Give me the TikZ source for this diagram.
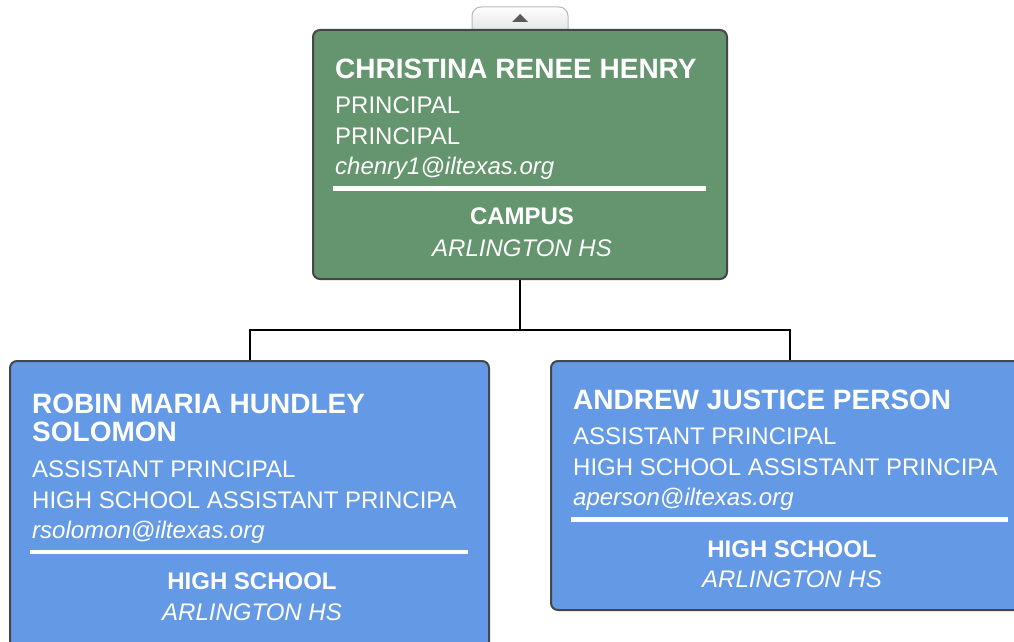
\documentclass[tikz,border=0pt]{standalone}
\usepackage{fontspec}
\setmainfont{Liberation Sans}
\usetikzlibrary{calc}
\definecolor{boxgreen}{RGB}{100,149,110}
\definecolor{boxblue}{RGB}{100,153,230}
\definecolor{boxborder}{RGB}{70,70,72}
\definecolor{tabfill}{RGB}{228,228,228}
\definecolor{tabborder}{RGB}{185,185,185}
\definecolor{tabarrow}{RGB}{90,90,90}
\tikzset{
  x=1pt, y=-1pt,
  card/.style={draw=boxborder, line width=2pt, rounded corners=7pt, inner sep=0pt},
  namestyle/.style={anchor=base west, text=white, inner sep=0pt, font=\fontsize{28}{30}\selectfont\bfseries, align=left},
  linestyle/.style={anchor=base west, text=white, inner sep=0pt, font=\fontsize{24}{28}\selectfont},
  mailstyle/.style={anchor=base west, text=white, inner sep=0pt, font=\fontsize{24}{28}\selectfont\itshape},
  deptstyle/.style={anchor=base, text=white, inner sep=0pt, font=\fontsize{24}{28}\selectfont\bfseries},
  sitestyle/.style={anchor=base, text=white, inner sep=0pt, font=\fontsize{24}{28}\selectfont\itshape},
  rule/.style={draw=white, line width=4.5pt},
  conn/.style={draw=black, line width=2pt},
}
\begin{document}
\begin{tikzpicture}
\useasboundingbox (0,0) rectangle (1014,642);
\clip (0,0) rectangle (1014,642);
\fill[white] (0,0) rectangle (1014,642);

% collapse tab
\draw[draw=tabborder, line width=1pt, top color=white, bottom color=tabfill]
  (472,31) -- (472,16) to[out=90,in=180] (481,7) -- (559,7) to[out=0,in=90] (568,16) -- (568,31);
\fill[tabarrow] (512,22) -- (528,22) -- (520,14) -- cycle;

% boxes
\node[card, fill=boxgreen, minimum width=414pt, minimum height=249pt] (top) at (520,154.5) {};
\node[card, fill=boxblue, minimum width=479pt, minimum height=292pt] (left) at (249.5,507) {};
\node[card, fill=boxblue, minimum width=477pt, minimum height=249pt] (right) at (789.5,485.5) {};

% connectors
\coordinate (junction) at (520,330);
\draw[conn] (top.south) -- (junction);
\draw[conn] (left.north) |- (junction) -| (right.north);

% top card text
\node[namestyle] (tname) at (335,78) {CHRISTINA RENEE HENRY};
\node[linestyle] (tt1) at (335,113) {PRINCIPAL};
\node[linestyle] (tt2) at (335,144) {PRINCIPAL};
\node[mailstyle] (tmail) at (335,174) {chenry1@iltexas.org};
\draw[rule] (333,188.5) -- (706,188.5);
\node[deptstyle] (tdept) at (522,224) {CAMPUS};
\node[sitestyle] (tsite) at (522,256) {ARLINGTON HS};

% left card text
\node[namestyle] (lname1) at (32,413) {ROBIN MARIA HUNDLEY};
\node[namestyle] (lname2) at (32,441) {SOLOMON};
\node[linestyle] (lt1) at (32,477) {ASSISTANT PRINCIPAL};
\node[linestyle] (lt2) at (32,508) {HIGH SCHOOL ASSISTANT PRINCIPA};
\node[mailstyle] (lmail) at (32,538) {rsolomon@iltexas.org};
\draw[rule] (30,552) -- (468,552);
\node[deptstyle] (ldept) at (252,589) {HIGH SCHOOL};
\node[sitestyle] (lsite) at (252,620) {ARLINGTON HS};

% right card text
\node[namestyle] (rname) at (573,409) {ANDREW JUSTICE PERSON};
\node[linestyle] (rt1) at (573,444) {ASSISTANT PRINCIPAL};
\node[linestyle] (rt2) at (573,475) {HIGH SCHOOL ASSISTANT PRINCIPA};
\node[mailstyle] (rmail) at (573,505) {aperson@iltexas.org};
\draw[rule] (571,519.5) -- (1008,519.5);
\node[deptstyle] (rdept) at (792,557) {HIGH SCHOOL};
\node[sitestyle] (rsite) at (792,587) {ARLINGTON HS};
\end{tikzpicture}
\end{document}
